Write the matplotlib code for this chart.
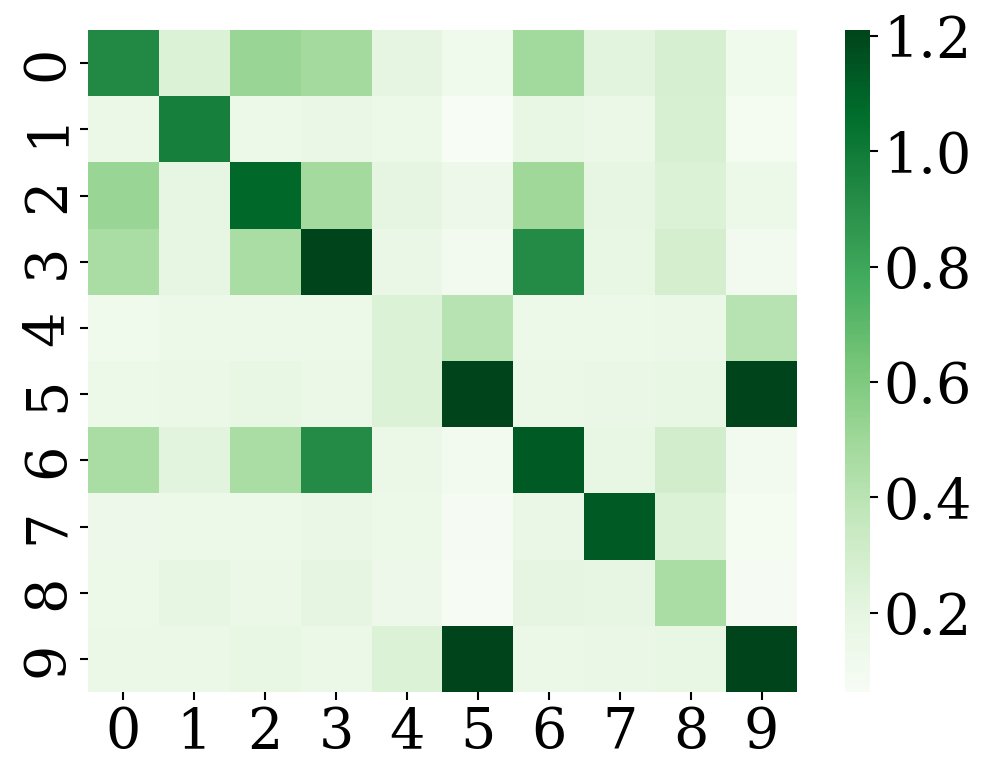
import numpy as np
import matplotlib
matplotlib.use("Agg")
import matplotlib.pyplot as plt
import seaborn as sns

labels = [str(i) for i in range(10)]

row0 = [0.93, 0.25, 0.52, 0.48, 0.20, 0.13, 0.49, 0.22, 0.28, 0.13]
row1 = [0.16, 0.98, 0.15, 0.17, 0.15, 0.063, 0.18, 0.16, 0.27, 0.09]
row2 = [0.52, 0.19, 1.08, 0.48, 0.20, 0.14, 0.50, 0.19, 0.25, 0.15]
row3 = [0.46, 0.19, 0.46, 1.21, 0.17, 0.10, 0.92, 0.18, 0.29, 0.10]
row4 = [0.13, 0.15, 0.15, 0.15, 0.25, 0.41, 0.15, 0.15, 0.16, 0.41]
row5 = [0.15, 0.16, 0.18, 0.16, 0.25, 1.21, 0.16, 0.17, 0.18, 1.21]
row6 = [0.46, 0.22, 0.46, 0.92, 0.16, 0.10, 1.13, 0.18, 0.30, 0.10]
row7 = [0.14, 0.15, 0.15, 0.17, 0.15, 0.08, 0.17, 1.13, 0.25, 0.09]
row8 = [0.15, 0.19, 0.16, 0.20, 0.14, 0.075, 0.20, 0.19, 0.46, 0.08]
row9 = [0.16, 0.16, 0.18, 0.16, 0.25, 1.21, 0.16, 0.17, 0.18, 1.21]

data = np.array([row0, row1, row2, row3, row4, row5, row6, row7, row8, row9])

plt.rcParams['font.family'] = ['DejaVu Serif']

fig = plt.figure(figsize=(9.95, 7.8), dpi=100)
ax = fig.add_axes([88 / 995, 1 - 692 / 780, (797 - 88) / 995, (692 - 30) / 780])
cax = fig.add_axes([845 / 995, 1 - 692 / 780, 25 / 995, (692 - 30) / 780])

sns.heatmap(data, cmap='Greens', ax=ax, cbar_ax=cax,
            xticklabels=labels, yticklabels=labels)

ax.tick_params(axis='both', labelsize=40, length=6, width=1.5)
ax.set_yticklabels(labels, rotation=90, va='center')
ax.set_xticklabels(labels, rotation=0)
cax.tick_params(labelsize=40, length=6, width=1.5)
cax.set_yticks([0.2, 0.4, 0.6, 0.8, 1.0, 1.2])

fig.savefig('out.png', dpi=100)
